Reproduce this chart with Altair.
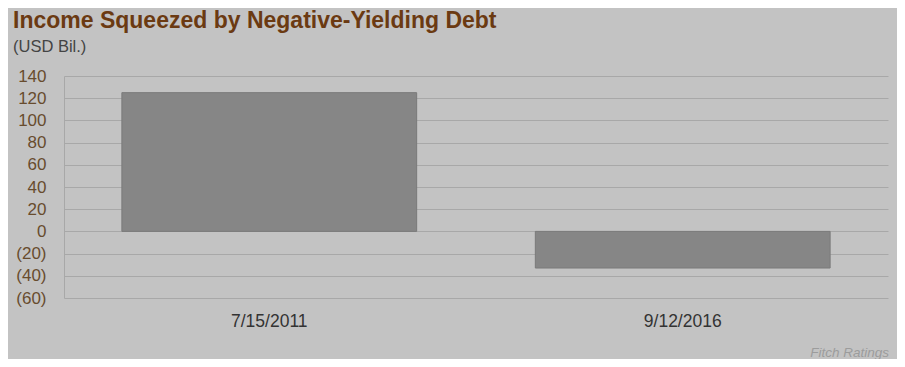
import altair as alt
import pandas as pd

categories = ["7/15/2011", "9/12/2016"]
values = [125, -33]
y_ticks = [140, 120, 100, 80, 60, 40, 20, 0, -20, -40, -60]

df = pd.DataFrame({"date": categories, "value": values})

BG = "#c3c3c3"
FONT = "Liberation Sans"

bars = alt.Chart(df).mark_bar(color="#868686", stroke="#7a7a7a", strokeWidth=1).encode(
    x=alt.X("date:N", sort=categories, title=None,
            scale=alt.Scale(paddingInner=0.287, paddingOuter=0.14),
            axis=alt.Axis(labelAngle=0, ticks=False, domain=False, labelPadding=14,
                          labelFontSize=17.5, labelColor="#333333", labelFont=FONT)),
    y=alt.Y("value:Q", title=None,
            scale=alt.Scale(domain=[-60, 140], nice=False),
            axis=alt.Axis(values=y_ticks, ticks=False, labelPadding=18,
                          labelFontSize=17, labelColor="#684c2e", labelFont=FONT,
                          labelExpr="datum.value < 0 ? '(' + abs(datum.value) + ')' : datum.value",
                          domain=True, domainColor="#a8a8a8", gridColor="#a8a8a8",
                          grid=True)),
)

source = alt.Chart(pd.DataFrame({"t": ["Fitch Ratings"]})).mark_text(
    align="right", baseline="alphabetic", fontStyle="italic", fontSize=13.5,
    color="#9c9c9c", font=FONT
).encode(x=alt.value(825), y=alt.value(281), text="t:N")

chart = (bars + source).properties(
    width=824, height=222,
    autosize=alt.AutoSizeParams(type="none"),
    padding={"left": 56, "top": 68, "right": 9, "bottom": 61},
    background=BG,
    title=alt.TitleParams(
        "Income Squeezed by Negative-Yielding Debt",
        subtitle="(USD Bil.)",
        anchor="start", frame="group", dx=-51,
        font=FONT, fontSize=23, fontWeight="bold", color="#6b3a12",
        subtitleFont=FONT, subtitleFontSize=16.5, subtitleColor="#444444",
        subtitlePadding=6, offset=12,
    ),
).configure_view(stroke=None)

chart.save("out.html", embed_options={"renderer": "svg", "actions": False})
